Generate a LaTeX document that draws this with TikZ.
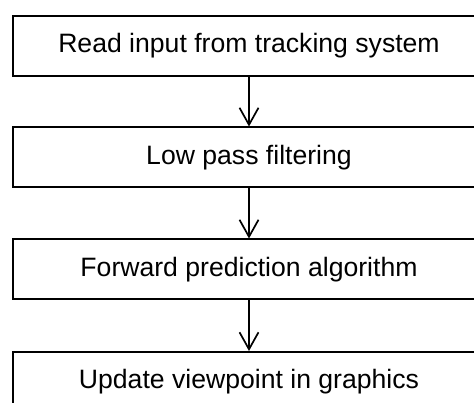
\documentclass[tikz,border=0pt]{standalone}
\usepackage{fontspec}
\setmainfont{Liberation Sans}
\usetikzlibrary{arrows.meta}
\begin{document}
\begin{tikzpicture}[x=1pt,y=-1pt,
  stage/.style={draw=black, line width=1.8pt, minimum width=472pt, minimum height=60pt,
    inner sep=0pt, font=\fontsize{26.6}{30}\selectfont, anchor=north},
  flow/.style={line width=1.7pt, -{Straight Barb[length=17pt,width=19pt,line width=1.7pt]}}]
\useasboundingbox (0,0) rectangle (474,403);
\clip (0,0) rectangle (474,403);
\fill[white] (0,0) rectangle (474,403);
\node[stage] (s1) at (249,15) {Read input from tracking system};
\node[stage] (s2) at (249,126.5) {Low pass filtering};
\node[stage] (s3) at (249,238.5) {Forward prediction algorithm};
\node[stage] (s4) at (249,351) {Update viewpoint in graphics};
\draw[flow] (s1.south) -- (s2.north);
\draw[flow] (s2.south) -- (s3.north);
\draw[flow] (s3.south) -- (s4.north);
\end{tikzpicture}
\end{document}
